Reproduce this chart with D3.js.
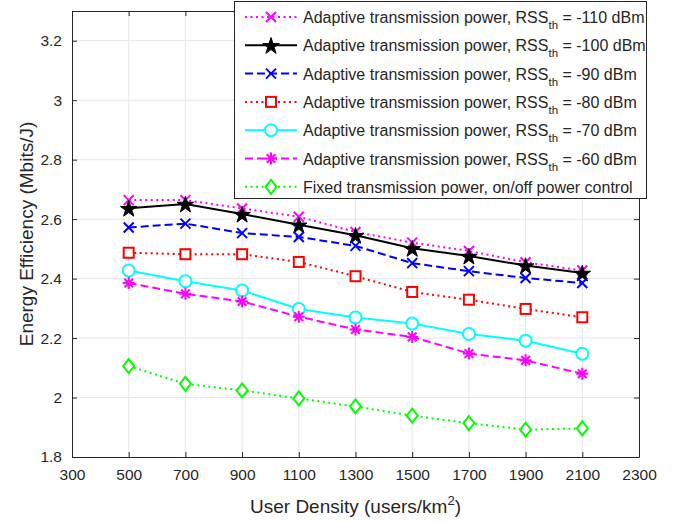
<!DOCTYPE html>
<html>
<head>
  <meta charset="utf-8">
  <title>Energy Efficiency vs User Density</title>
  <script src="https://d3js.org/d3.v7.min.js"></script>
  <style>
    html, body {
      margin: 0;
      padding: 0;
      background: #fff;
    }
    text {
      font-family: "Liberation Sans", Arial, sans-serif;
      fill: #262626;
    }
    .grid line {
      stroke: #e6e6e6;
      stroke-width: 1;
    }
  </style>
</head>
<body>
  <svg id="chart" width="679" height="522"></svg>

  <script>
    // data
    const density = [500, 700, 900, 1100, 1300, 1500, 1700, 1900, 2100];

    const ee110 = [2.664, 2.664, 2.636, 2.608, 2.557, 2.521, 2.493, 2.455, 2.427];
    const ee100 = [2.637, 2.651, 2.617, 2.581, 2.546, 2.502, 2.476, 2.444, 2.419];
    const ee90  = [2.572, 2.585, 2.553, 2.540, 2.510, 2.452, 2.425, 2.402, 2.385];
    const ee80  = [2.487, 2.482, 2.482, 2.456, 2.408, 2.355, 2.329, 2.298, 2.270];
    const ee70  = [2.427, 2.391, 2.360, 2.298, 2.269, 2.249, 2.214, 2.191, 2.147];
    const ee60  = [2.385, 2.349, 2.323, 2.272, 2.229, 2.204, 2.148, 2.125, 2.080];
    const eeFixed = [2.106, 2.046, 2.024, 1.997, 1.970, 1.939, 1.914, 1.892, 1.896];

    const xTicks = [300, 500, 700, 900, 1100, 1300, 1500, 1700, 1900, 2100, 2300];
    const yTicks = [1.8, 2, 2.2, 2.4, 2.6, 2.8, 3, 3.2];

    const series = [
      { values: ee110, color: "#ff00ff", dash: "2,3.5", marker: "x", label: "-110 dBm" },
      { values: ee100, color: "#000000", dash: null, marker: "star", label: "-100 dBm" },
      { values: ee90,  color: "#0000ff", dash: "8,4", marker: "x", label: "-90 dBm" },
      { values: ee80,  color: "#ff0000", dash: "2,3.5", marker: "square", label: "-80 dBm" },
      { values: ee70,  color: "#00ffff", dash: null, marker: "circle", label: "-70 dBm" },
      { values: ee60,  color: "#ff00ff", dash: "8,4", marker: "asterisk", label: "-60 dBm" },
      { values: eeFixed, color: "#00ff00", dash: "2,3.5", marker: "diamond", label: null }
    ];

    const margin = { left: 72, right: 40, top: 11, bottom: 65 };
    const W = 679, H = 522;

    const x = d3.scaleLinear().domain([300, 2300]).range([margin.left, W - margin.right]);
    const y = d3.scaleLinear().domain([1.8, 3.3]).range([H - margin.bottom, margin.top]);

    const svg = d3.select("#chart");

    // grid
    svg.append("g").attr("class", "grid")
      .selectAll("line").data(xTicks.slice(1, -1)).join("line")
      .attr("x1", d => x(d)).attr("x2", d => x(d))
      .attr("y1", y.range()[0]).attr("y2", y.range()[1]);
    svg.append("g").attr("class", "grid")
      .selectAll("line").data(yTicks.slice(1)).join("line")
      .attr("x1", x.range()[0]).attr("x2", x.range()[1])
      .attr("y1", d => y(d)).attr("y2", d => y(d));

    // axes, MATLAB style: ticks pointing inward, box all round
    const axisColor = "#262626";
    const xAxis = svg.append("g")
      .attr("transform", `translate(0,${y.range()[0]})`)
      .call(d3.axisBottom(x).tickValues(xTicks).tickSizeInner(-5).tickSizeOuter(0).tickPadding(12)
        .tickFormat(d3.format("d")));
    const xAxisTop = svg.append("g")
      .attr("transform", `translate(0,${y.range()[1]})`)
      .call(d3.axisTop(x).tickValues(xTicks).tickSizeInner(-5).tickSizeOuter(0).tickFormat(""));
    const yAxis = svg.append("g")
      .attr("transform", `translate(${x.range()[0]},0)`)
      .call(d3.axisLeft(y).tickValues(yTicks).tickSizeInner(-5).tickSizeOuter(0).tickPadding(10)
        .tickFormat(d3.format("")));
    const yAxisRight = svg.append("g")
      .attr("transform", `translate(${x.range()[1]},0)`)
      .call(d3.axisRight(y).tickValues(yTicks).tickSizeInner(-5).tickSizeOuter(0).tickFormat(""));

    [xAxis, xAxisTop, yAxis, yAxisRight].forEach(g => {
      g.select(".domain").attr("stroke", axisColor).attr("stroke-width", 1);
      g.selectAll(".tick line").attr("stroke", axisColor);
      g.selectAll(".tick text").style("font-size", "15.5px").attr("fill", axisColor);
    });

    // axis labels
    const xl = svg.append("text")
      .attr("x", (x.range()[0] + x.range()[1]) / 2)
      .attr("y", 513)
      .attr("text-anchor", "middle")
      .style("font-size", "19px");
    xl.append("tspan").text("User Density (users/km");
    xl.append("tspan").attr("dy", -8).style("font-size", "13px").text("2");
    xl.append("tspan").attr("dy", 8).text(")");

    svg.append("text")
      .attr("transform", `translate(33,${(y.range()[0] + y.range()[1]) / 2}) rotate(-90)`)
      .attr("text-anchor", "middle")
      .style("font-size", "19px")
      .text("Energy Efficiency (Mbits/J)");

    // markers
    function drawMarker(g, type, color, cx, cy) {
      const s = 5;
      if (type === "x") {
        g.append("path")
          .attr("d", `M${cx - s},${cy - s}L${cx + s},${cy + s}M${cx - s},${cy + s}L${cx + s},${cy - s}`)
          .attr("stroke", color).attr("stroke-width", 2).attr("fill", "none");
      } else if (type === "star") {
        g.append("path")
          .attr("d", d3.symbol(d3.symbolStar, 85)())
          .attr("transform", `translate(${cx},${cy + 1})`)
          .attr("fill", color).attr("stroke", color).attr("stroke-width", 1);
      } else if (type === "square") {
        g.append("rect")
          .attr("x", cx - 5).attr("y", cy - 5).attr("width", 10).attr("height", 10)
          .attr("fill", "#fff").attr("stroke", color).attr("stroke-width", 2);
      } else if (type === "circle") {
        g.append("circle")
          .attr("cx", cx).attr("cy", cy).attr("r", 6)
          .attr("fill", "#fff").attr("stroke", color).attr("stroke-width", 2);
      } else if (type === "asterisk") {
        const a = 6, b = a * 0.72;
        g.append("path")
          .attr("d", `M${cx},${cy - a}L${cx},${cy + a}M${cx - a},${cy}L${cx + a},${cy}` +
            `M${cx - b},${cy - b}L${cx + b},${cy + b}M${cx - b},${cy + b}L${cx + b},${cy - b}`)
          .attr("stroke", color).attr("stroke-width", 2).attr("fill", "none");
      } else if (type === "diamond") {
        g.append("path")
          .attr("d", `M${cx},${cy - 7}L${cx + 5.5},${cy}L${cx},${cy + 7}L${cx - 5.5},${cy}Z`)
          .attr("stroke", color).attr("stroke-width", 2).attr("fill", "#fff");
      }
    }

    const line = d3.line().x((d, i) => x(density[i])).y(d => y(d));

    series.forEach(s => {
      const g = svg.append("g");
      g.append("path")
        .datum(s.values)
        .attr("d", line)
        .attr("fill", "none")
        .attr("stroke", s.color)
        .attr("stroke-width", 2)
        .attr("stroke-dasharray", s.dash);
      s.values.forEach((v, i) => drawMarker(g, s.marker, s.color, x(density[i]), y(v)));
    });

    // legend
    const lg = svg.append("g");
    lg.append("rect")
      .attr("x", 234.5).attr("y", 1.5).attr("width", 412).attr("height", 197)
      .attr("fill", "#fff").attr("stroke", axisColor).attr("stroke-width", 1);

    series.forEach((s, i) => {
      const ry = 17 + i * 28.3;
      lg.append("line")
        .attr("x1", 245).attr("x2", 297).attr("y1", ry).attr("y2", ry)
        .attr("stroke", s.color).attr("stroke-width", 2)
        .attr("stroke-dasharray", s.dash);
      drawMarker(lg, s.marker, s.color, 271, ry);
      const t = lg.append("text")
        .attr("x", 303).attr("y", ry + 6)
        .style("font-size", "16px");
      if (s.label) {
        t.append("tspan").text("Adaptive transmission power, RSS");
        t.append("tspan").attr("dy", 6).style("font-size", "11.5px").text("th");
        t.append("tspan").attr("dy", -6).text(" = " + s.label);
      } else {
        t.text("Fixed transmission power, on/off power control");
      }
    });
  </script>
</body>
</html>
